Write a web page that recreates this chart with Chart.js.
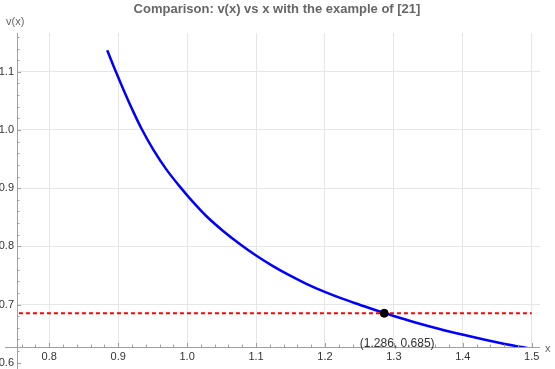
<!DOCTYPE html>
<html>
<head>
<meta charset="utf-8">
<script src="https://cdn.jsdelivr.net/npm/chart.js@4.4.1/dist/chart.umd.min.js"></script>
<style>
  html, body { margin: 0; padding: 0; background: #fff; }
  #wrap { width: 555px; height: 369px; position: relative; }
</style>
</head>
<body>
<div id="wrap"><canvas id="myChart" width="555" height="369"></canvas></div>
<script>
// values
const xs = [0.8841, 0.8967, 0.9083, 0.9217, 0.9339, 0.9507, 0.9701, 0.9919, 1.0039, 1.0281, 1.0522, 1.0764,
    1.1006, 1.1246, 1.1488, 1.173, 1.2006, 1.2261, 1.2503, 1.286, 1.2986, 1.3325, 1.3662, 1.3991, 1.429, 1.4629, 1.5];
const vs = [1.1372, 1.1, 1.0675, 1.032, 1.0021, 0.9668, 0.9319, 0.8992, 0.8824, 0.8517, 0.8265, 0.8041,
    0.7838, 0.766, 0.75, 0.7357, 0.7213, 0.7096, 0.6997, 0.6854, 0.6807, 0.6688, 0.658, 0.6485, 0.6404, 0.6319, 0.6237];
const refX = [0.756, 1.5];
const refV = 0.685;
const hit = [1.286, 0.685];
const xTicks = [0.8, 0.9, 1.0, 1.1, 1.2, 1.3, 1.4, 1.5];
const yTicks = [0.6, 0.7, 0.8, 0.9, 1.0, 1.1];
const titleText = 'Comparison: v(x) vs x with the example of [21]';

const axisColor = '#a0a0a0';
const textColor = '#333';
const font = '"Liberation Sans", Arial, sans-serif';

// axes, ticks, labels drawn in a Mathematica-ish way
const axesPlugin = {
    id: 'axes',
    afterDraw(chart) {
        const ctx = chart.ctx;
        const xs_ = chart.scales.x, ys_ = chart.scales.y;
        const a = chart.chartArea;
        const x0 = xs_.getPixelForValue(xs_.min);
        const y0 = ys_.getPixelForValue(ys_.min);
        ctx.save();
        ctx.strokeStyle = axisColor;
        ctx.lineWidth = 1;
        // axis lines
        ctx.beginPath();
        ctx.moveTo(Math.round(x0) + 0.5, a.top);
        ctx.lineTo(Math.round(x0) + 0.5, 369);
        ctx.moveTo(5, Math.round(y0) + 0.5);
        ctx.lineTo(a.right, Math.round(y0) + 0.5);
        ctx.stroke();
        // minor + major ticks
        ctx.beginPath();
        for (let i = 38; i <= 75; i++) {
            const v = i / 50;
            if (v < xs_.min || v > xs_.max) continue;
            const px = Math.round(xs_.getPixelForValue(v)) + 0.5;
            const len = (i % 5 === 0) ? 4 : 2.5;
            ctx.moveTo(px, y0);
            ctx.lineTo(px, y0 - len);
        }
        for (let i = 30; i <= 58; i++) {
            const v = i / 50;
            const py = Math.round(ys_.getPixelForValue(v)) + 0.5;
            if (py < a.top) continue;
            const len = (i % 5 === 0) ? 4 : 2.5;
            ctx.moveTo(x0, py);
            ctx.lineTo(x0 + len, py);
        }
        ctx.stroke();

        // tick labels
        ctx.fillStyle = textColor;
        ctx.font = '11px ' + font;
        ctx.textAlign = 'center';
        ctx.textBaseline = 'middle';
        xTicks.forEach(v => {
            ctx.fillText(v.toFixed(1), xs_.getPixelForValue(v), 357);
        });
        ctx.textAlign = 'right';
        yTicks.forEach(v => {
            ctx.fillText(v.toFixed(1), 14, ys_.getPixelForValue(v));
        });

        // axis names
        ctx.fillStyle = '#666';
        ctx.textAlign = 'left';
        ctx.fillText('v(x)', 6, 22);
        ctx.fillText('x', 545, 349);

        // title
        ctx.font = 'bold 13px ' + font;
        ctx.textAlign = 'center';
        ctx.fillText(titleText, 277, 9);

        // point label
        ctx.fillStyle = textColor;
        ctx.font = '12px ' + font;
        ctx.fillText('(' + hit[0].toFixed(3) + ', ' + hit[1].toFixed(3) + ')',
            xs_.getPixelForValue(hit[0]) + 13, ys_.getPixelForValue(hit[1]) + 30);
        ctx.restore();
    }
};

const ctx = document.getElementById('myChart').getContext('2d');
const chart = new Chart(ctx, {
    type: 'scatter',
    data: {
        datasets: [
            {
                label: 'hit',
                data: [{ x: hit[0], y: hit[1] }],
                pointRadius: 4,
                pointBackgroundColor: '#000',
                pointBorderColor: '#000',
                showLine: false,
                order: 0
            },
            {
                label: 'v(x)',
                data: xs.map((x, i) => ({ x: x, y: vs[i] })),
                showLine: true,
                borderColor: '#0000ff',
                borderWidth: 2.5,
                pointRadius: 0,
                cubicInterpolationMode: 'monotone',
                order: 2
            },
            {
                label: 'ref',
                data: refX.map(x => ({ x: x, y: refV })),
                showLine: true,
                borderColor: '#ff0000',
                borderWidth: 2,
                borderDash: [4, 3],
                pointRadius: 0,
                order: 1
            }
        ]
    },
    options: {
        responsive: false,
        animation: false,
        events: [],
        layout: { padding: { left: 17, right: 15, top: 33, bottom: 22 } },
        plugins: { legend: { display: false }, title: { display: false }, tooltip: { enabled: false } },
        scales: {
            x: {
                type: 'linear',
                min: 0.7532,
                max: 1.512,
                ticks: { display: false, stepSize: 0.1 },
                afterBuildTicks: s => { s.ticks = xTicks.map(v => ({ value: v })); },
                grid: { color: '#e6e6e6', drawTicks: false },
                border: { display: false }
            },
            y: {
                type: 'linear',
                min: 0.627,
                max: 1.1667,
                ticks: { display: false, stepSize: 0.1 },
                afterBuildTicks: s => { s.ticks = yTicks.filter(v => v > 0.63).map(v => ({ value: v })); },
                grid: { color: '#e6e6e6', drawTicks: false },
                border: { display: false }
            }
        }
    },
    plugins: [axesPlugin]
});
</script>
</body>
</html>
